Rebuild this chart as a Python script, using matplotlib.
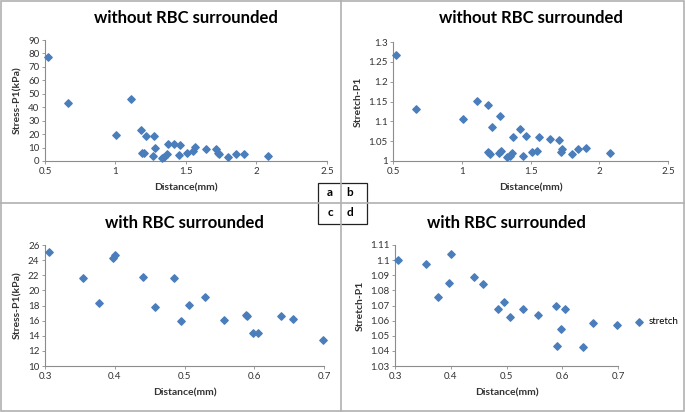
import numpy as np
import matplotlib
matplotlib.use("Agg")
from matplotlib import pyplot as plt
from matplotlib.patches import Rectangle
from matplotlib.lines import Line2D

plt.rcParams['font.family'] = ['Lato', 'DejaVu Sans']

# without RBC surrounded
dist_a = [0.519, 0.662, 1.005, 1.107, 1.183, 1.19, 1.205, 1.219, 1.269, 1.271,
          1.281, 1.329, 1.345, 1.362, 1.371, 1.417, 1.448, 1.46, 1.507, 1.552,
          1.562, 1.645, 1.71, 1.726, 1.731, 1.8, 1.852, 1.91, 2.079]
stress_a = [77.6, 43.4, 19.3, 46.4, 23.1, 5.7, 6.2, 18.3, 4.0, 18.6,
            9.9, 2.0, 3.2, 5.0, 12.6, 12.6, 4.5, 11.9, 6.2, 7.7,
            10.7, 9.2, 8.7, 6.2, 5.2, 3.0, 5.0, 5.5, 3.5]

dist_b = [0.524, 0.67, 1.007, 1.108, 1.188, 1.193, 1.208, 1.222, 1.271, 1.278,
          1.285, 1.329, 1.348, 1.362, 1.373, 1.424, 1.445, 1.467, 1.511, 1.547,
          1.562, 1.644, 1.707, 1.722, 1.727, 1.804, 1.848, 1.906, 2.076]
stretch_b = [1.2665, 1.1316, 1.1064, 1.1517, 1.14, 1.0218, 1.0176, 1.0863, 1.0193, 1.114,
             1.026, 1.010, 1.0134, 1.0201, 1.0595, 1.0813, 1.0134, 1.0628, 1.0235, 1.0251,
             1.0595, 1.0561, 1.0528, 1.0218, 1.031, 1.0168, 1.031, 1.0335, 1.021]

# with RBC surrounded
dist_cd = [0.306, 0.355, 0.378, 0.397, 0.400, 0.441, 0.457, 0.485, 0.495, 0.507,
           0.53, 0.557, 0.588, 0.590, 0.598, 0.605, 0.638, 0.656, 0.698]
stress_c = [25.07, 21.67, 18.27, 24.23, 24.67, 21.76, 17.78, 21.67, 15.92, 18.09,
            19.15, 16.1, 16.72, 16.6, 14.42, 14.42, 16.59, 16.28, 13.4]
stretch_d = [1.1003, 1.0974, 1.0757, 1.0848, 1.104, 1.0886, 1.0839, 1.068, 1.0724, 1.0625,
             1.0676, 1.064, 1.0698, 1.043, 1.0547, 1.0676, 1.0426, 1.0587, 1.0571]

W, H = 685, 412
fig = plt.figure(figsize=(W / 100, H / 100), dpi=100)
blue = '#4a7ebb'
gray = '#8c8c8c'


def box(l, t, r, b):
    return [l / W, 1 - b / H, (r - l) / W, (b - t) / H]


def panel(rect, x, y, title, ylabel, xlim, xticks, ylim, yticks, yfmt, title_y):
    ax = fig.add_axes(box(*rect))
    ax.scatter(x, y, marker='D', s=14, color=blue, label='stretch', zorder=3, clip_on=False)
    ax.set_xlim(*xlim)
    ax.set_ylim(*ylim)
    ax.set_xticks(xticks)
    ax.set_yticks(yticks)
    ax.set_xticklabels([('%g' % v) for v in xticks])
    ax.set_yticklabels([yfmt(v) for v in yticks])
    for s in ['top', 'right']:
        ax.spines[s].set_visible(False)
    for s in ['left', 'bottom']:
        ax.spines[s].set_color(gray)
        ax.spines[s].set_linewidth(0.8)
    ax.tick_params(labelsize=7, colors=gray, labelcolor='#333333', length=2, width=0.6, pad=2)
    ax.set_xlabel('Distance(mm)', fontsize=7.5, fontweight='bold', color='#333333', labelpad=6)
    ax.set_ylabel(ylabel, fontsize=7.5, fontweight='bold', color='#333333', labelpad=4)
    ax.patch.set_alpha(0)
    cx = (rect[0] + rect[2]) / 2 / W
    fig.text(cx, 1 - title_y / H, title, ha='center', va='center', fontsize=12, fontweight='bold')
    return ax


panel((45, 40, 327, 161), dist_a, stress_a, 'without RBC surrounded', 'Stress-P1(kPa)',
      (0.5, 2.5), [0.5, 1, 1.5, 2, 2.5], (0, 90), list(range(0, 91, 10)), lambda v: '%d' % v, 18)
panel((393, 42, 668, 161), dist_b, stretch_b, 'without RBC surrounded', 'Stretch-P1',
      (0.5, 2.5), [0.5, 1, 1.5, 2, 2.5], (1, 1.3), [1, 1.05, 1.1, 1.15, 1.2, 1.25, 1.3],
      lambda v: '%g' % v, 18)
panel((45, 245, 324, 366), dist_cd, stress_c, 'with RBC surrounded', 'Stress-P1(kPa)',
      (0.3, 0.7), [0.3, 0.4, 0.5, 0.6, 0.7], (10, 26), list(range(10, 27, 2)),
      lambda v: '%d' % v, 223)
axd = panel((395, 245, 618, 366), dist_cd, stretch_d, 'with RBC surrounded', 'Stretch-P1',
            (0.3, 0.7), [0.3, 0.4, 0.5, 0.6, 0.7], (1.03, 1.11),
            [1.03, 1.04, 1.05, 1.06, 1.07, 1.08, 1.09, 1.1, 1.11], lambda v: '%g' % round(v, 2), 223)
axd.legend(loc='center left', bbox_to_anchor=(1.0, 0.365), frameon=False, fontsize=7,
           handletextpad=0.0, markerscale=1.0, borderaxespad=0.8)

# panel borders
lc = '#b0b0b0'
fig.add_artist(Rectangle((1 / W, 1 / H), (W - 2) / W, (H - 2) / H, transform=fig.transFigure,
                         fill=False, edgecolor=lc, linewidth=1.2))
fig.add_artist(Line2D([341 / W, 341 / W], [0, 1], transform=fig.transFigure, color=lc, lw=1.2))
fig.add_artist(Line2D([0, 1], [1 - 203 / H, 1 - 203 / H], transform=fig.transFigure, color=lc, lw=1.2))

# center label box
fig.add_artist(Rectangle((318 / W, 1 - 224 / H), 49 / W, 41 / H, transform=fig.transFigure,
                         fill=True, facecolor='none', edgecolor='#222222', linewidth=0.9))
for lbl, px, py in [('a', 330, 193), ('b', 350, 193), ('c', 330, 213), ('d', 350, 213)]:
    fig.text(px / W, 1 - py / H, lbl, ha='center', va='center', fontsize=8.5, fontweight='bold')

fig.savefig('out.png', dpi=100)
